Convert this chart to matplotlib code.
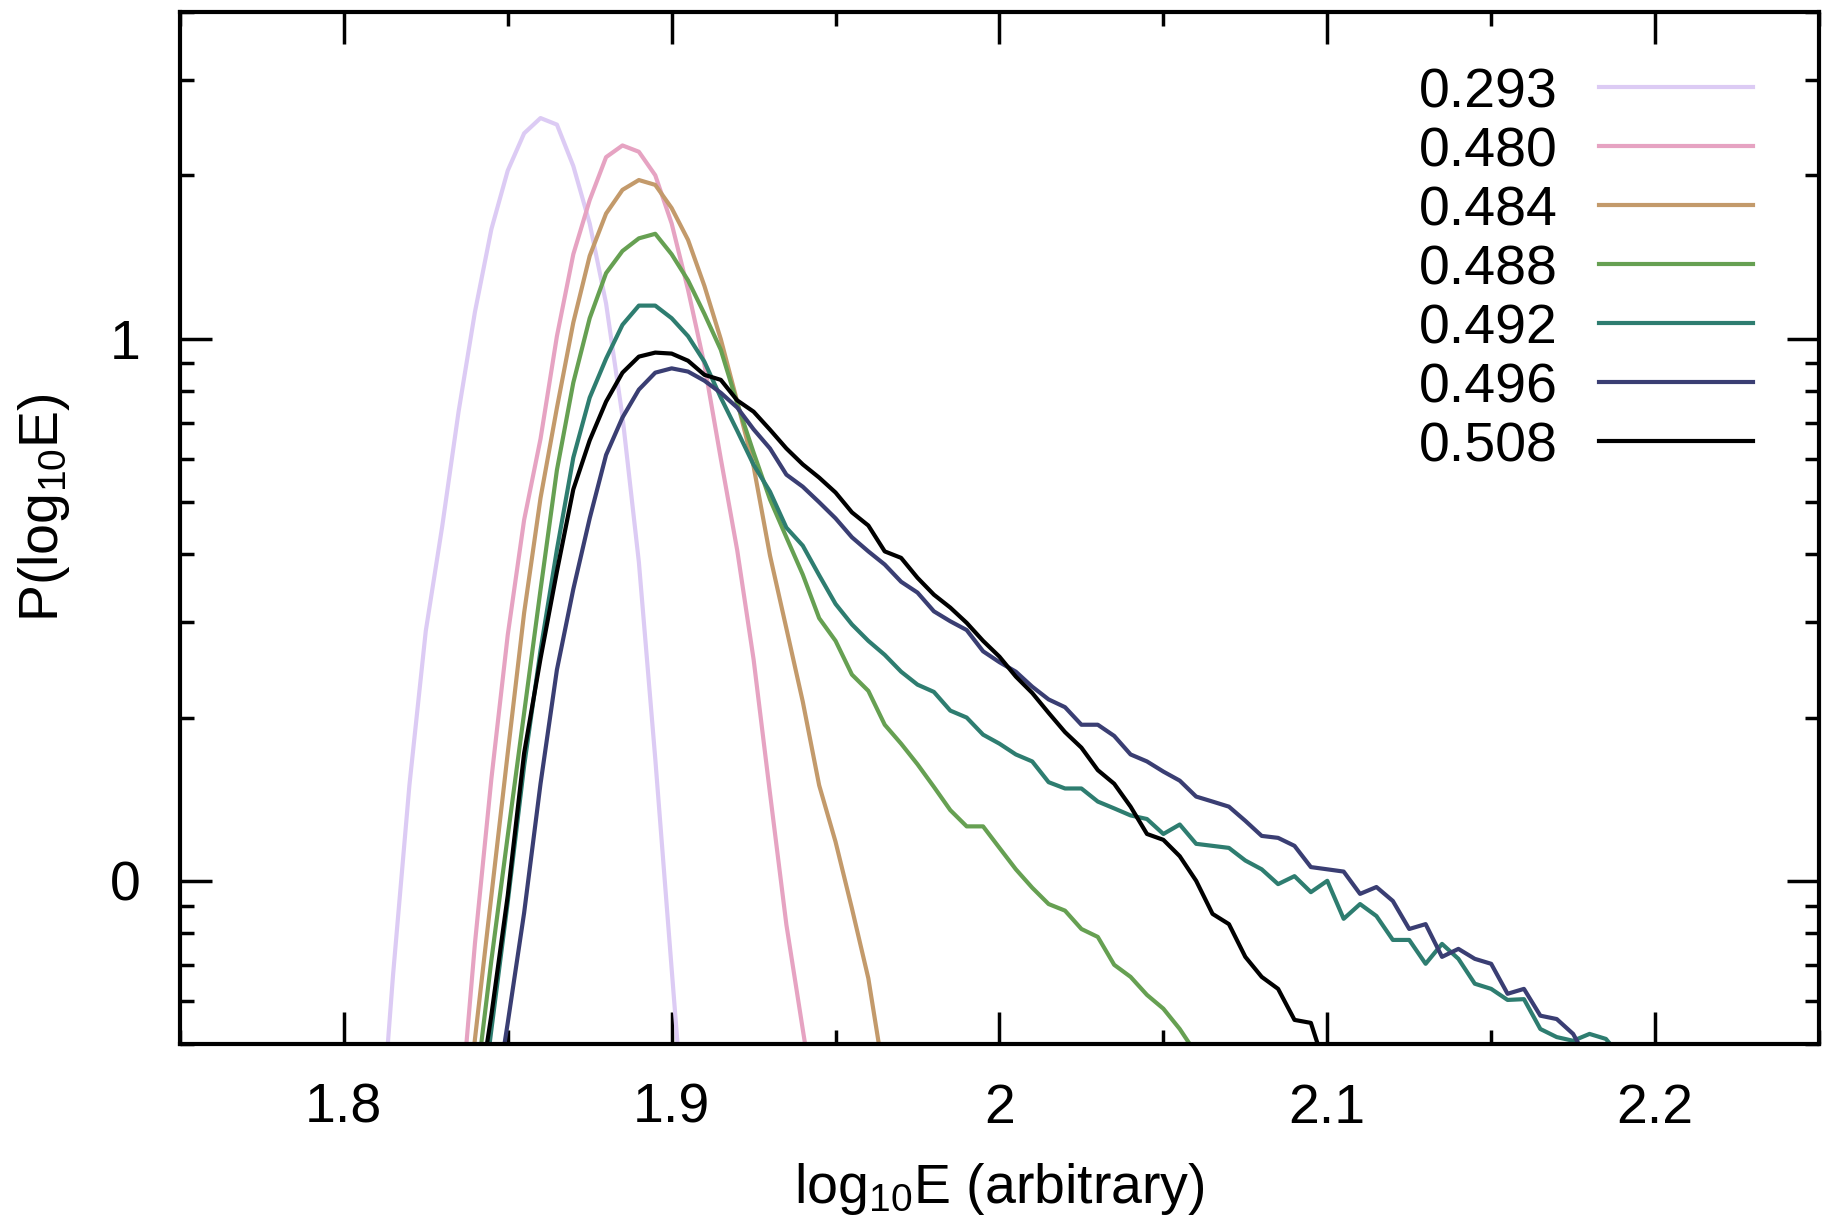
import numpy as np
import matplotlib
matplotlib.use("Agg")
import matplotlib.pyplot as plt
from matplotlib.ticker import (FixedLocator, LogLocator, NullFormatter,
                               FuncFormatter, MultipleLocator)

plt.rcParams['font.family'] = ['Liberation Sans', 'DejaVu Sans']
plt.rcParams['mathtext.fontset'] = 'custom'
plt.rcParams['mathtext.rm'] = 'Liberation Sans'
plt.rcParams['mathtext.it'] = 'Liberation Sans'

# histogram bin width in log10E
step = 0.005

# P(log10E) per bin; each series starts at its own bin
start_293 = 1.810
p_293 = [0.267, 0.669, 1.50, 2.89, 4.50, 7.33, 11.2, 15.9, 20.4, 23.9, 25.5,
         24.8, 20.8, 16.3, 11.6, 7.18, 3.87, 1.68, 0.688, 0.284]

start_480 = 1.835
p_480 = [0.339, 0.767, 1.54, 2.84, 4.63, 6.53, 10.1, 14.3, 18.0, 21.6, 22.7,
         22.1, 20.0, 16.3, 12.3, 8.95, 6.0, 4.07, 2.56, 1.45, 0.830, 0.532, 0.344]

start_484 = 1.835
p_484 = [0.275, 0.511, 0.938, 1.72, 3.12, 5.08, 7.45, 10.7, 14.2, 17.0, 18.8,
         19.6, 19.2, 17.4, 15.2, 12.5, 9.97, 7.65, 5.81, 3.98, 2.92, 2.14, 1.50,
         1.18, 0.889, 0.661, 0.428]

start_488 = 1.840
p_488 = [0.402, 0.713, 1.21, 2.04, 3.44, 5.72, 8.29, 10.9, 13.2, 14.5, 15.3,
         15.6, 14.3, 12.8, 11.1, 9.53, 7.59, 6.16, 5.05, 4.30, 3.67, 3.05, 2.77,
         2.40, 2.24, 1.94, 1.79, 1.64, 1.49, 1.35, 1.26, 1.26, 1.15, 1.05, 0.971,
         0.906, 0.881, 0.815, 0.788, 0.700, 0.665, 0.616, 0.581, 0.533, 0.480]

start_492 = 1.840
p_492 = [0.305, 0.531, 0.914, 1.63, 2.66, 4.08, 6.03, 7.78, 9.18, 10.6, 11.5,
         11.5, 10.9, 10.1, 9.06, 7.78, 6.76, 5.85, 5.22, 4.48, 4.15, 3.66, 3.24,
         2.97, 2.77, 2.61, 2.43, 2.30, 2.23, 2.06, 2.00, 1.86, 1.79, 1.71, 1.66,
         1.52, 1.48, 1.48, 1.40, 1.36, 1.32, 1.30, 1.22, 1.27, 1.17, 1.16, 1.15,
         1.09, 1.05, 0.986, 1.02, 0.953, 1.00, 0.851, 0.906, 0.861, 0.778, 0.778,
         0.703, 0.765, 0.718, 0.646, 0.632, 0.603, 0.605, 0.533, 0.515, 0.507,
         0.522, 0.511, 0.470]

start_496 = 1.845
p_496 = [0.349, 0.547, 0.873, 1.51, 2.45, 3.45, 4.66, 6.10, 7.15, 8.05, 8.65,
         8.81, 8.69, 8.36, 7.94, 7.46, 6.80, 6.27, 5.61, 5.33, 4.99, 4.66, 4.30,
         4.05, 3.83, 3.56, 3.40, 3.14, 3.01, 2.90, 2.65, 2.53, 2.43, 2.28, 2.16,
         2.09, 1.94, 1.94, 1.85, 1.71, 1.66, 1.59, 1.53, 1.43, 1.40, 1.37, 1.29,
         1.21, 1.20, 1.16, 1.06, 1.05, 1.04, 0.946, 0.974, 0.918, 0.815, 0.832,
         0.724, 0.749, 0.718, 0.703, 0.619, 0.632, 0.564, 0.556, 0.522, 0.460]

start_508 = 1.840
p_508 = [0.359, 0.565, 0.939, 1.72, 2.57, 3.72, 5.27, 6.49, 7.65, 8.65, 9.26,
         9.42, 9.38, 9.10, 8.57, 8.39, 7.69, 7.33, 6.79, 6.27, 5.86, 5.54, 5.20,
         4.78, 4.52, 4.05, 3.94, 3.62, 3.37, 3.19, 2.99, 2.77, 2.59, 2.38, 2.22,
         2.04, 1.88, 1.76, 1.60, 1.51, 1.37, 1.22, 1.19, 1.11, 1.00, 0.869, 0.832,
         0.724, 0.665, 0.632, 0.554, 0.547, 0.441]

labels = ["0.293", "0.480", "0.484", "0.488", "0.492", "0.496", "0.508"]
starts = [start_293, start_480, start_484, start_488, start_492, start_496, start_508]
series = [p_293, p_480, p_484, p_488, p_492, p_496, p_508]
colors = ["#dccbf4", "#e6a3c2", "#c39a6b", "#66a052", "#2e7d70", "#3a3e73", "#000000"]

fig = plt.figure(figsize=(18.23, 12.27), dpi=100)
ax = fig.add_axes([0.0987, 0.1491, 0.8991, 0.8411])

for lab, x0, p, c in zip(labels, starts, series, colors):
    x = x0 + step * np.arange(len(p))
    ax.plot(x, p, color=c, lw=3.0, label=lab)

ax.set_yscale('log')
ax.set_xlim(1.75, 2.25)
ax.set_ylim(0.5, 40)

ax.xaxis.set_major_locator(MultipleLocator(0.1))
ax.xaxis.set_minor_locator(MultipleLocator(0.05))
ax.xaxis.set_major_formatter(FuncFormatter(lambda v, p: f"{v:g}"))
ax.yaxis.set_major_locator(FixedLocator([1, 10]))
ax.yaxis.set_major_formatter(FuncFormatter(lambda v, p: f"{np.log10(v):.0f}"))
ax.yaxis.set_minor_locator(LogLocator(base=10, subs=np.arange(2, 10)))
ax.yaxis.set_minor_formatter(NullFormatter())

ax.tick_params(which='both', direction='in', top=True, right=True, width=2.5)
ax.tick_params(which='major', length=23, labelsize=40, pad=28)
ax.tick_params(which='minor', length=10)
for s in ax.spines.values():
    s.set_linewidth(3)

ax.set_xlabel(r"log$_\mathregular{10}$E (arbitrary)", fontsize=40)
ax.set_ylabel(r"P(log$_\mathregular{10}$E)", fontsize=40)
ax.xaxis.set_label_coords(0.5, -0.113)
ax.yaxis.set_label_coords(-0.066, 0.52)

# gnuplot-style key: label right-aligned, sample line after it
row0 = 0.9273
dy = 0.0572
for i, (lab, c) in enumerate(zip(labels, colors)):
    y = row0 - i * dy
    ax.text(0.8408, y - 0.0194, lab, transform=ax.transAxes, ha='right',
            va='baseline', fontsize=40)
    ax.plot([0.8658, 0.9597], [y, y], transform=ax.transAxes, color=c, lw=3.0)

fig.savefig("out.png", dpi=100)
